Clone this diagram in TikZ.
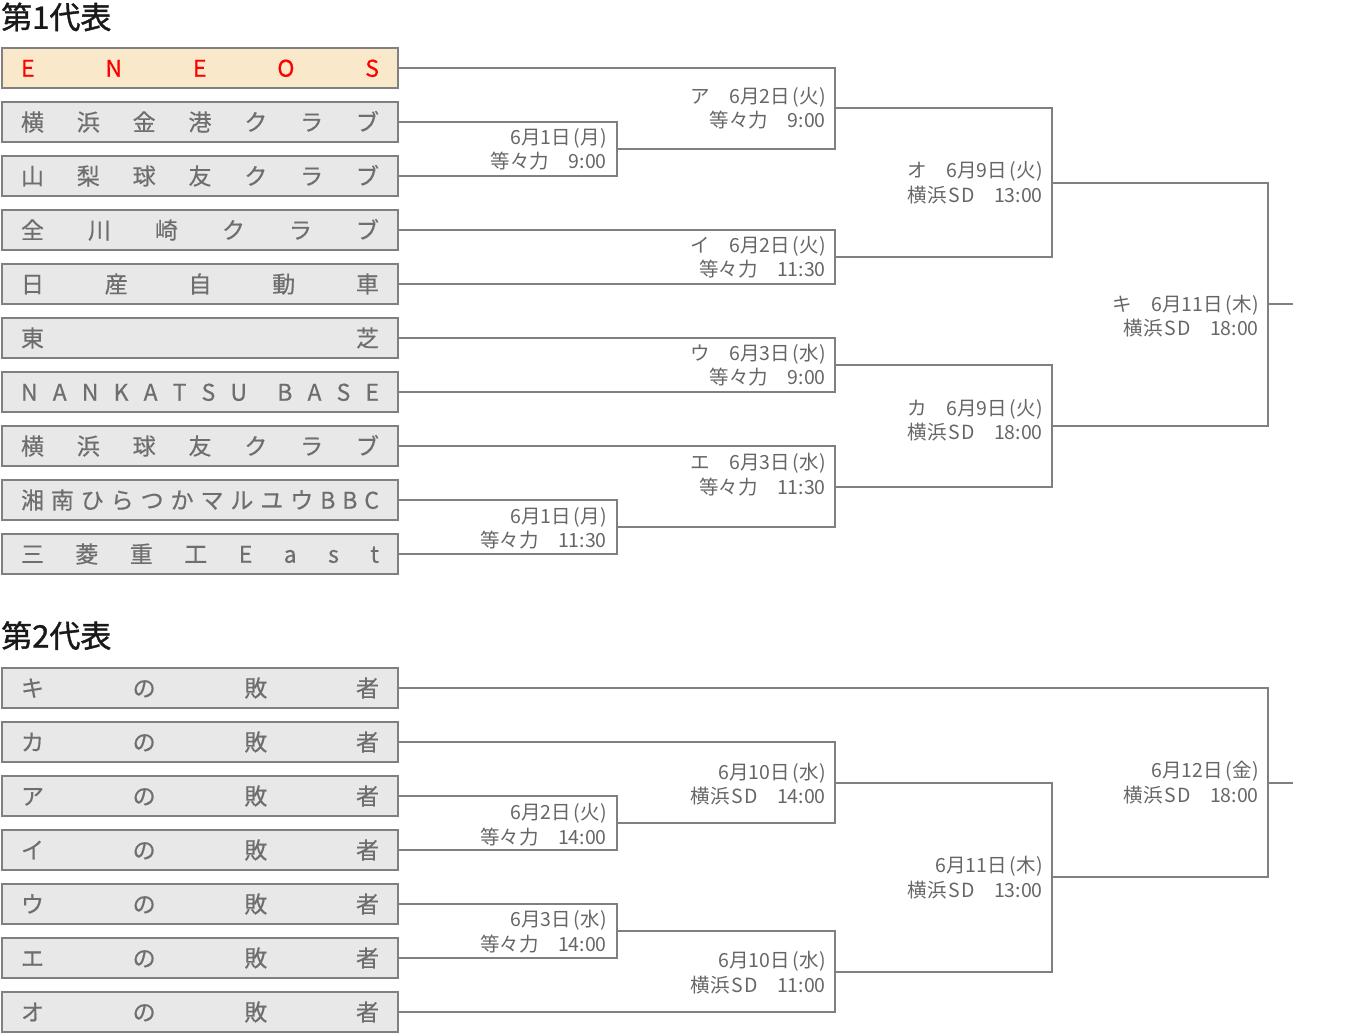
\documentclass[tikz,border=0pt]{standalone}
\usepackage{fontspec}
\setmainfont{Noto Sans CJK JP}
\newfontfamily\hdrfont{Noto Sans CJK JP}[FakeBold=1.2]
\newfontfamily\teamfont{Noto Sans CJK JP}[FakeBold=0.5]
\definecolor{ln}{HTML}{808080}
\definecolor{boxgray}{HTML}{E8E8E8}
\definecolor{boxwin}{HTML}{FAE8CA}
\definecolor{txtgray}{HTML}{6E6E6E}
\definecolor{lblgray}{HTML}{666666}
\definecolor{winred}{HTML}{FF0000}
\newcommand{\jt}[1]{\makebox[358pt][s]{#1}}
\newcommand{\po}{\kern2pt(\kern0.5pt}
\newcommand{\pc}{\kern0.5pt)}
\newcommand{\SDx}{\kern1.5ptS\kern1.5ptD}
\begin{document}
\begin{tikzpicture}[x=1pt,y=-1pt,
  teambox/.style={draw=ln, line width=2.2pt, fill=boxgray, minimum width=396pt, minimum height=40pt, inner sep=0pt, text=txtgray, font=\teamfont\fontsize{23}{23}\selectfont, text height=20pt, text depth=2.6pt},
  conn/.style={draw=ln, line width=2pt},
  lbl/.style={anchor=base east, inner sep=0pt, text=lblgray, font=\fontsize{19.5}{24}\selectfont},
  hdr/.style={anchor=base west, inner sep=0pt, font=\hdrfont\fontsize{31}{31}\selectfont, text=black!90}]
\useasboundingbox (0,0) rectangle (1360,1034);

% headers
\node[hdr] (h1) at (1,28.8) {第1代表};
\node[hdr] (h2) at (1,647.5) {第2代表};

% top teams
\node[teambox, fill=boxwin, text=winred] (a1) at (200,68) {\jt{E\hfill N\hfill E\hfill O\hfill S}};
\node[teambox] (a2) at (200,122) {\jt{横\hfill 浜\hfill 金\hfill 港\hfill ク\hfill ラ\hfill ブ}};
\node[teambox] (a3) at (200,176) {\jt{山\hfill 梨\hfill 球\hfill 友\hfill ク\hfill ラ\hfill ブ}};
\node[teambox] (a4) at (200,230) {\jt{全\hfill 川\hfill 崎\hfill ク\hfill ラ\hfill ブ}};
\node[teambox] (a5) at (200,284) {\jt{日\hfill 産\hfill 自\hfill 動\hfill 車}};
\node[teambox] (a6) at (200,338) {\jt{東\hfill 芝}};
\node[teambox] (a7) at (200,392) {\jt{N\hfill A\hfill N\hfill K\hfill A\hfill T\hfill S\hfill U\hspace{0pt plus 2fill}B\hfill A\hfill S\hfill E}};
\node[teambox] (a8) at (200,446) {\jt{横\hfill 浜\hfill 球\hfill 友\hfill ク\hfill ラ\hfill ブ}};
\node[teambox] (a9) at (200,500) {\jt{湘\hfill 南\hfill ひ\hfill ら\hfill つ\hfill か\hfill マ\hfill ル\hfill ユ\hfill ウ\hfill B\hfill B\hfill C}};
\node[teambox] (a10) at (200,554) {\jt{三\hfill 菱\hfill 重\hfill 工\hfill E\hfill a\hfill s\hfill t}};

% bottom teams
\node[teambox] (b1) at (200,688) {\jt{キ\hfill の\hfill 敗\hfill 者}};
\node[teambox] (b2) at (200,742) {\jt{カ\hfill の\hfill 敗\hfill 者}};
\node[teambox] (b3) at (200,796) {\jt{ア\hfill の\hfill 敗\hfill 者}};
\node[teambox] (b4) at (200,850) {\jt{イ\hfill の\hfill 敗\hfill 者}};
\node[teambox] (b5) at (200,904) {\jt{ウ\hfill の\hfill 敗\hfill 者}};
\node[teambox] (b6) at (200,958) {\jt{エ\hfill の\hfill 敗\hfill 者}};
\node[teambox] (b7) at (200,1012) {\jt{オ\hfill の\hfill 敗\hfill 者}};

% junctions top
\coordinate (J1) at (617,149);
\coordinate (JA) at (835,108);
\coordinate (JI) at (835,257);
\coordinate (JU) at (835,365);
\coordinate (J2) at (617,527);
\coordinate (JE) at (835,486.5);
\coordinate (JO) at (1052,182.5);
\coordinate (JK) at (1052,425.75);
\coordinate (JKi) at (1268,304);
\coordinate (endA) at (1293,304);

\draw[conn] (a2.east) -| (J1);
\draw[conn] (a3.east) -| (J1);
\draw[conn] (a1.east) -| (JA);
\draw[conn] (J1) -| (JA);
\draw[conn] (a4.east) -| (JI);
\draw[conn] (a5.east) -| (JI);
\draw[conn] (a6.east) -| (JU);
\draw[conn] (a7.east) -| (JU);
\draw[conn] (a9.east) -| (J2);
\draw[conn] (a10.east) -| (J2);
\draw[conn] (a8.east) -| (JE);
\draw[conn] (J2) -| (JE);
\draw[conn] (JA) -| (JO);
\draw[conn] (JI) -| (JO);
\draw[conn] (JU) -| (JK);
\draw[conn] (JE) -| (JK);
\draw[conn] (JO) -| (JKi);
\draw[conn] (JK) -| (JKi);
\draw[conn] (JKi) -- (endA);

% junctions bottom
\coordinate (K1) at (617,823);
\coordinate (K2) at (835,782.5);
\coordinate (K3) at (617,931);
\coordinate (K4) at (835,971.5);
\coordinate (K5) at (1052,877);
\coordinate (K6) at (1268,782.5);
\coordinate (endB) at (1293,782.5);

\draw[conn] (b3.east) -| (K1);
\draw[conn] (b4.east) -| (K1);
\draw[conn] (b2.east) -| (K2);
\draw[conn] (K1) -| (K2);
\draw[conn] (b5.east) -| (K3);
\draw[conn] (b6.east) -| (K3);
\draw[conn] (b7.east) -| (K4);
\draw[conn] (K3) -| (K4);
\draw[conn] (K2) -| (K5);
\draw[conn] (K4) -| (K5);
\draw[conn] (b1.east) -| (K6);
\draw[conn] (K5) -| (K6);
\draw[conn] (K6) -- (endB);

% labels top
\node[lbl] (l1a) at (607,144.2) {6月1日\po 月\pc};
\node[lbl] (l1b) at (607,168.2) {等々力　9:00};
\node[lbl] (lAa) at (826,103.2) {ア　6月2日\po 火\pc};
\node[lbl] (lAb) at (826,127.2) {等々力　9:00};
\node[lbl] (lIa) at (826,252.2) {イ　6月2日\po 火\pc};
\node[lbl] (lIb) at (826,276.2) {等々力　11:30};
\node[lbl] (lUa) at (826,360.2) {ウ　6月3日\po 水\pc};
\node[lbl] (lUb) at (826,384.2) {等々力　9:00};
\node[lbl] (lEa) at (826,469.2) {エ　6月3日\po 水\pc};
\node[lbl] (lEb) at (826,494.2) {等々力　11:30};
\node[lbl] (l2a) at (607,523.2) {6月1日\po 月\pc};
\node[lbl] (l2b) at (607,547.2) {等々力　11:30};
\node[lbl] (lOa) at (1043,177.2) {オ　6月9日\po 火\pc};
\node[lbl] (lOb) at (1043,202.2) {横浜\SDx　13:00};
\node[lbl] (lKa) at (1043,415.2) {カ　6月9日\po 火\pc};
\node[lbl] (lKb) at (1043,439.2) {横浜\SDx　18:00};
\node[lbl] (lQa) at (1259,311.2) {キ　6月11日\po 木\pc};
\node[lbl] (lQb) at (1259,335.2) {横浜\SDx　18:00};

% labels bottom
\node[lbl] (m1a) at (826,779.2) {6月10日\po 水\pc};
\node[lbl] (m1b) at (826,803.2) {横浜\SDx　14:00};
\node[lbl] (m2a) at (607,819.2) {6月2日\po 火\pc};
\node[lbl] (m2b) at (607,844.2) {等々力　14:00};
\node[lbl] (m3a) at (607,926.2) {6月3日\po 水\pc};
\node[lbl] (m3b) at (607,951.2) {等々力　14:00};
\node[lbl] (m4a) at (826,967.2) {6月10日\po 水\pc};
\node[lbl] (m4b) at (826,992.2) {横浜\SDx　11:00};
\node[lbl] (m5a) at (1043,872.2) {6月11日\po 木\pc};
\node[lbl] (m5b) at (1043,897.2) {横浜\SDx　13:00};
\node[lbl] (m6a) at (1259,777.2) {6月12日\po 金\pc};
\node[lbl] (m6b) at (1259,802.2) {横浜\SDx　18:00};
\end{tikzpicture}
\end{document}
